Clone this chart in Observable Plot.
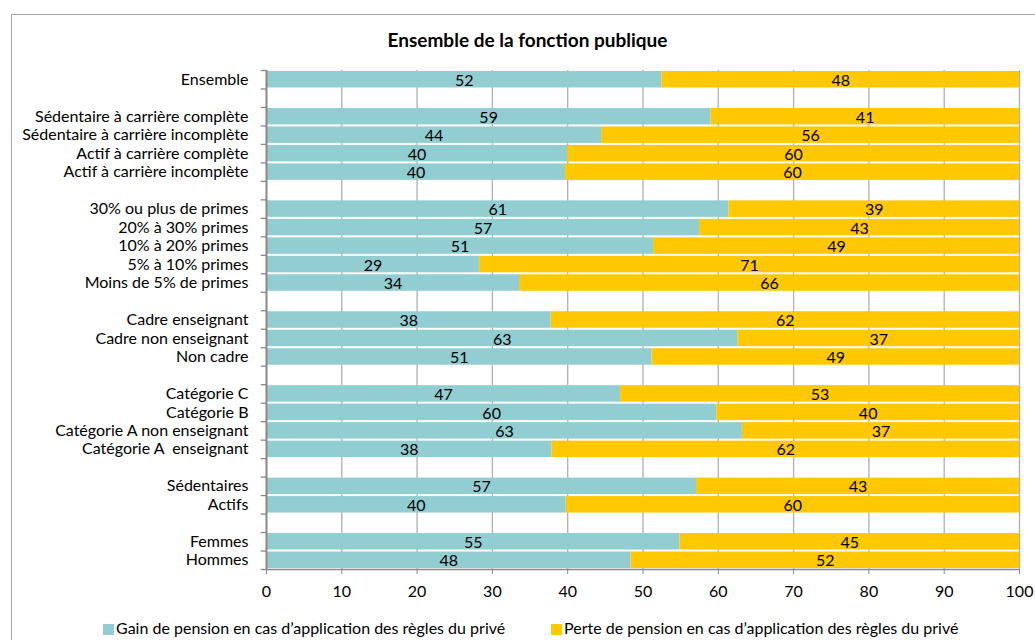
<!DOCTYPE html>
<html>
<head>
<meta charset="utf-8">
<script src="https://cdn.jsdelivr.net/npm/d3@7"></script>
<script src="https://cdn.jsdelivr.net/npm/@observablehq/plot@0.6"></script>
<style>
  body { margin: 0; background: #fff; font-family: Lato, "Open Sans", sans-serif; }
  #wrap { position: relative; width: 1035px; height: 640px; overflow: hidden; }
  #frame { position: absolute; left: 11px; top: 14px; width: 1040px; height: 640px; border: 1px solid #a6a6a6; box-sizing: border-box; }
  #title { position: absolute; left: 0; width: 1055px; top: 29px; text-align: center; font-weight: bold; font-size: 19px; line-height: 22px; color: #000; }
  #chart { position: absolute; left: 0; top: 0; }
  #legend { position: absolute; top: 618px; left: 0; width: 1035px; font-size: 16px; line-height: 20px; color: #000; }
  .item { position: absolute; white-space: nowrap; }
  .sw { display: inline-block; width: 11px; height: 11px; margin-right: 2px; vertical-align: -1px; }
</style>
</head>
<body>
<div id="wrap">
  <div id="frame"></div>
  <div id="title">Ensemble de la fonction publique</div>
  <div id="chart"></div>
  <div id="legend"></div>
</div>
<script>
const title = "Ensemble de la fonction publique";
const categories = [
  "Ensemble", null,
  "Sédentaire à carrière complète", "Sédentaire à carrière incomplète", "Actif à carrière complète", "Actif à carrière incomplète", null,
  "30% ou plus de primes", "20% à 30% primes", "10% à 20% primes", "5% à 10% primes", "Moins de 5% de primes", null,
  "Cadre enseignant", "Cadre non enseignant", "Non cadre", null,
  "Catégorie C", "Catégorie B", "Catégorie A non enseignant", "Catégorie A  enseignant", null,
  "Sédentaires", "Actifs", null,
  "Femmes", "Hommes"
];
// bar lengths
const gain = [52.5, null, 59.0, 44.5, 40.0, 39.7, null, 61.4, 57.5, 51.4, 28.3, 33.6, null, 37.8, 62.6, 51.2, null, 47.0, 59.8, 63.2, 37.9, null, 57.1, 39.8, null, 54.9, 48.4];
const loss = gain.map(g => g == null ? null : 100 - g);
// labels as printed in the bars
const gainLabels = [52, null, 59, 44, 40, 40, null, 61, 57, 51, 29, 34, null, 38, 63, 51, null, 47, 60, 63, 38, null, 57, 40, null, 55, 48];
const lossLabels = [48, null, 41, 56, 60, 60, null, 39, 43, 49, 71, 66, null, 62, 37, 49, null, 53, 40, 37, 62, null, 43, 60, null, 45, 52];
const series = ["Gain de pension en cas d\u2019application des règles du privé", "Perte de pension en cas d\u2019application des règles du privé"];
const colors = ["#92CDD1", "#FFC800"];
const xTicks = [0, 10, 20, 30, 40, 50, 60, 70, 80, 90, 100];

const rows = [];
categories.forEach((c, i) => {
  if (c == null) return;
  rows.push({i, series: series[0], x1: 0, x2: gain[i], label: gainLabels[i]});
  rows.push({i, series: series[1], x1: gain[i], x2: gain[i] + loss[i], label: lossLabels[i]});
});
const cats = categories.map((c, i) => ({i, c})).filter(d => d.c != null);
const n = categories.length;

const chart = Plot.plot({
  width: 1035,
  height: 600,
  marginTop: 70,
  marginBottom: 31,
  marginLeft: 266,
  marginRight: 16,
  style: {fontFamily: "Lato, 'Open Sans', sans-serif", fontSize: "16px", color: "#000", background: "transparent"},
  x: {domain: [0, 100], label: null},
  y: {domain: [n, 0], label: null, axis: null},
  color: {domain: series, range: colors},
  marks: [
    Plot.gridX(xTicks.slice(1), {stroke: "#b0b0b0", strokeOpacity: 1, strokeWidth: 1.3}),
    Plot.rectX(rows, {y1: d => d.i, y2: d => d.i + 1, x1: "x1", x2: "x2", fill: "series", insetTop: 1, insetBottom: 1}),
    Plot.text(rows, {y: d => d.i + 0.5, x: d => (d.x1 + d.x2) / 2, text: "label", fill: "#000", fontSize: 16, dy: 1}),
    Plot.text(cats, {y: d => d.i + 0.5, x: 0, text: "c", textAnchor: "end", dx: -18, fill: "#000", fontSize: 16}),
    Plot.ruleY(d3.range(n + 1), {y: d => d, x1: -0.7, x2: 0, stroke: "#888", strokeWidth: 1.3, clip: false}),
    Plot.ruleX([0], {stroke: "#888", strokeWidth: 2}),
    Plot.ruleY([n], {x1: 0, x2: 100, stroke: "#888", strokeWidth: 1.3}),
    Plot.axisX({ticks: xTicks, tickSize: 5, tickPadding: 11, stroke: "#888", fill: "#000", fontSize: 16, tickFormat: d => String(d)})
  ]
});
document.getElementById("chart").appendChild(chart);

const legend = document.getElementById("legend");
const positions = [103, 551];
series.forEach((s, k) => {
  const item = document.createElement("div");
  item.className = "item";
  item.style.left = positions[k] + "px";
  item.innerHTML = `<span class="sw" style="background:${colors[k]}"></span>${s}`;
  legend.appendChild(item);
});
</script>
</body>
</html>
